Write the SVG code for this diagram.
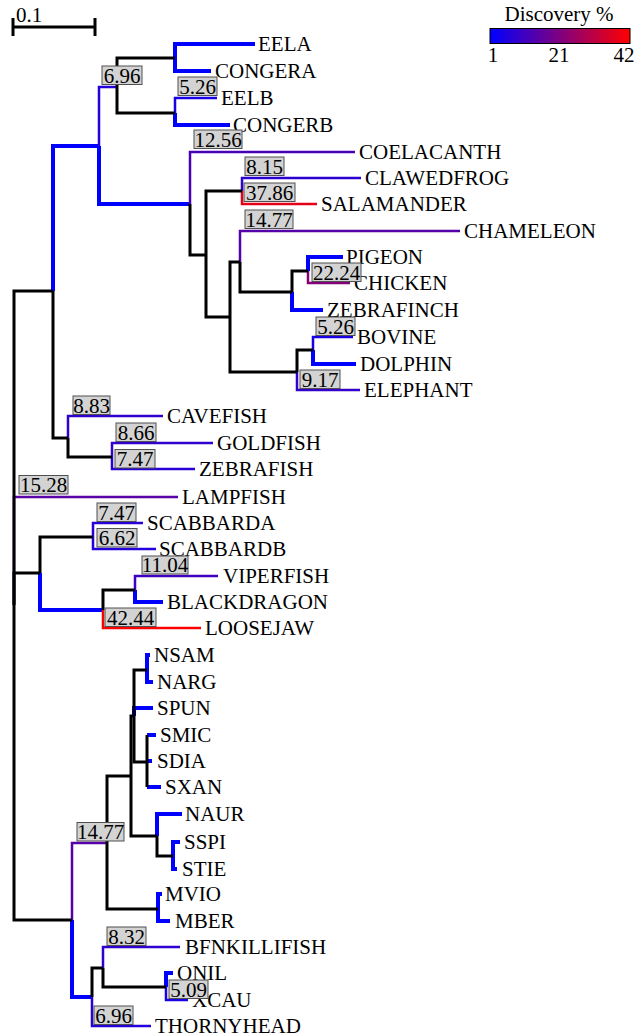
<svg xmlns="http://www.w3.org/2000/svg" width="642" height="1036" viewBox="0 0 642 1036">
<style>
text{font-family:"Liberation Serif","Times New Roman",serif;font-size:21px;fill:#000}
.e{fill:none;stroke-linejoin:miter;stroke-linecap:butt}
.k{stroke:#000;stroke-width:3}
.b{stroke:#0000ff;stroke-width:4}
.c{stroke-width:2.5}
.lb rect{fill:#d3d3d3;stroke:#505050;stroke-width:1}
.lb text{text-anchor:middle}
</style>
<defs>
<linearGradient id="grad" x1="0" y1="0" x2="1" y2="0">
<stop offset="0" stop-color="#0000ff"/>
<stop offset="1" stop-color="#ff0000"/>
</linearGradient>
</defs>
<rect width="642" height="1036" fill="#fff"/>
<g id="scale">
<path d="M13 27H95M13 18V36M95 18V36" stroke="#000" stroke-width="3" fill="none"/>
<text x="16" y="22">0.1</text>
</g>
<g id="legend">
<text x="559" y="21" text-anchor="middle">Discovery %</text>
<rect x="490" y="28.5" width="140" height="15" fill="url(#grad)" stroke="#000" stroke-width="1"/>
<text x="493" y="62" text-anchor="middle">1</text>
<text x="559" y="62" text-anchor="middle">21</text>
<text x="624" y="62" text-anchor="middle">42</text>
</g>
<g id="connectors">
<path class="e b" d="M53 291V146H99"/>
<path class="e c" stroke="rgb(37,0,218)" d="M99 146V87H117"/>
<path class="e b" d="M99 146V204H190"/>
<path class="e b" d="M175 58V44H255"/>
<path class="e b" d="M175 58V71H211"/>
<path class="e c" stroke="rgb(26,0,229)" d="M175 113V98H217"/>
<path class="e b" d="M175 113V125H230"/>
<path class="e c" stroke="rgb(72,0,183)" d="M190 204V152H355"/>
<path class="e c" stroke="rgb(44,0,211)" d="M242 191V178H361"/>
<path class="e c" stroke="rgb(229,0,26)" d="M242 191V204H317"/>
<path class="e c" stroke="rgb(86,0,169)" d="M240 262V231H460"/>
<path class="e b" d="M292 292V310H323"/>
<path class="e b" d="M308 271V257H343"/>
<path class="e c" stroke="rgb(132,0,123)" d="M308 271V283H350"/>
<path class="e c" stroke="rgb(51,0,204)" d="M297 372V390H360"/>
<path class="e c" stroke="rgb(26,0,229)" d="M313 350V337H353"/>
<path class="e b" d="M313 350V364H356"/>
<path class="e c" stroke="rgb(89,0,166)" d="M14 605V497H178"/>
<path class="e c" stroke="rgb(49,0,206)" d="M68 438V416H163"/>
<path class="e c" stroke="rgb(48,0,207)" d="M112 457V443H213"/>
<path class="e c" stroke="rgb(40,0,215)" d="M112 457V469H195"/>
<path class="e b" d="M40 573V610H103"/>
<path class="e c" stroke="rgb(40,0,215)" d="M93 537V523H143"/>
<path class="e c" stroke="rgb(35,0,220)" d="M93 537V549H156"/>
<path class="e c" stroke="#ff0000" d="M103 610V628H201"/>
<path class="e c" stroke="rgb(62,0,193)" d="M135 590V576H218"/>
<path class="e b" d="M135 590V602H163"/>
<path class="e c" stroke="rgb(86,0,169)" d="M72 920V843H107"/>
<path class="e b" d="M72 920V997H92"/>
<path class="e b" d="M147 670V655H150"/>
<path class="e b" d="M147 670V682H153"/>
<path class="e b" d="M134 716V708H153"/>
<path class="e b" d="M147 735H156M147 761H152M147 787H161"/>
<path class="e b" d="M157 836V814H182"/>
<path class="e b" d="M173 856V842H180"/>
<path class="e b" d="M173 856V869H177"/>
<path class="e b" d="M158 909V894H162"/>
<path class="e b" d="M158 909V921H170"/>
<path class="e c" stroke="rgb(37,0,218)" d="M92 997V1026H151"/>
<path class="e c" stroke="rgb(46,0,209)" d="M103 968V947H180"/>
<path class="e b" d="M166 987V973H173"/>
<path class="e c" stroke="rgb(25,0,230)" d="M166 987V1000H188"/>
<path class="e k" d="M14 605V291H53"/>
<path class="e k" d="M14 605V573H40"/>
<path class="e k" d="M14 605V920H72"/>
<path class="e k" d="M53 291V438H68"/>
<path class="e k" d="M117 87V58H175"/>
<path class="e k" d="M117 87V113H175"/>
<path class="e k" d="M190 204V255H206"/>
<path class="e k" d="M206 255V191H242"/>
<path class="e k" d="M206 255V317H230"/>
<path class="e k" d="M230 317V262H240"/>
<path class="e k" d="M230 317V372H297"/>
<path class="e k" d="M240 262V292H292"/>
<path class="e k" d="M292 292V271H308"/>
<path class="e k" d="M297 372V350H313"/>
<path class="e k" d="M68 438V457H112"/>
<path class="e k" d="M40 573V537H93"/>
<path class="e k" d="M103 610V590H135"/>
<path class="e k" d="M107 843V776H131"/>
<path class="e k" d="M107 843V909H158"/>
<path class="e k" d="M131 776V716H134"/>
<path class="e k" d="M131 776V836H157"/>
<path class="e k" d="M134 716V670H147"/>
<path class="e k" d="M134 716V762H147"/>
<path class="e k" d="M147 735V787"/>
<path class="e k" d="M157 836V856H173"/>
<path class="e k" d="M92 997V968H103"/>
<path class="e k" d="M103 968V987H166"/>
</g>
<g id="leaves">
<g id="n-EELA"><text x="258" y="50.5">EELA</text></g>
<g id="n-CONGERA"><text x="215" y="77.5">CONGERA</text></g>
<g id="n-EELB"><text x="221" y="104.5">EELB</text></g>
<g id="n-CONGERB"><text x="233" y="131.5">CONGERB</text></g>
<g id="n-COELACANTH"><text x="359" y="158.5">COELACANTH</text></g>
<g id="n-CLAWEDFROG"><text x="365" y="184.5">CLAWEDFROG</text></g>
<g id="n-SALAMANDER"><text x="321" y="210.5">SALAMANDER</text></g>
<g id="n-CHAMELEON"><text x="464" y="237.5">CHAMELEON</text></g>
<g id="n-PIGEON"><text x="346" y="263.5">PIGEON</text></g>
<g id="n-CHICKEN"><text x="354" y="289.5">CHICKEN</text></g>
<g id="n-ZEBRAFINCH"><text x="327" y="316.5">ZEBRAFINCH</text></g>
<g id="n-BOVINE"><text x="357" y="343.5">BOVINE</text></g>
<g id="n-DOLPHIN"><text x="360" y="370.5">DOLPHIN</text></g>
<g id="n-ELEPHANT"><text x="364" y="396.5">ELEPHANT</text></g>
<g id="n-CAVEFISH"><text x="167" y="422.5">CAVEFISH</text></g>
<g id="n-GOLDFISH"><text x="217" y="449.5">GOLDFISH</text></g>
<g id="n-ZEBRAFISH"><text x="199" y="475.5">ZEBRAFISH</text></g>
<g id="n-LAMPFISH"><text x="182" y="503.5">LAMPFISH</text></g>
<g id="n-SCABBARDA"><text x="147" y="529.5">SCABBARDA</text></g>
<g id="n-SCABBARDB"><text x="159" y="555.5">SCABBARDB</text></g>
<g id="n-VIPERFISH"><text x="223" y="582.5">VIPERFISH</text></g>
<g id="n-BLACKDRAGON"><text x="167" y="608.5">BLACKDRAGON</text></g>
<g id="n-LOOSEJAW"><text x="205" y="634.5">LOOSEJAW</text></g>
<g id="n-NSAM"><text x="154" y="661.5">NSAM</text></g>
<g id="n-NARG"><text x="157" y="688.5">NARG</text></g>
<g id="n-SPUN"><text x="157" y="714.5">SPUN</text></g>
<g id="n-SMIC"><text x="160" y="741.5">SMIC</text></g>
<g id="n-SDIA"><text x="157" y="767.5">SDIA</text></g>
<g id="n-SXAN"><text x="165" y="793.5">SXAN</text></g>
<g id="n-NAUR"><text x="185" y="820.5">NAUR</text></g>
<g id="n-SSPI"><text x="184" y="848.5">SSPI</text></g>
<g id="n-STIE"><text x="182" y="875.5">STIE</text></g>
<g id="n-MVIO"><text x="165" y="900.5">MVIO</text></g>
<g id="n-MBER"><text x="175" y="927.5">MBER</text></g>
<g id="n-BFNKILLIFISH"><text x="185" y="953.5">BFNKILLIFISH</text></g>
<g id="n-ONIL"><text x="177" y="979.5">ONIL</text></g>
<g id="n-XCAU"><text x="192" y="1006.5">XCAU</text></g>
<g id="n-THORNYHEAD"><text x="155" y="1032.5">THORNYHEAD</text></g>
</g>
<g id="labels">
<g id="l1" class="lb"><rect x="102" y="66" width="40" height="18.5"/><text x="122" y="82.5">6.96</text></g>
<g id="l2" class="lb"><rect x="178" y="77" width="39" height="18.5"/><text x="197.5" y="93.5">5.26</text></g>
<g id="l3" class="lb"><rect x="194" y="130" width="48" height="18.5"/><text x="218" y="146.5">12.56</text></g>
<g id="l4" class="lb"><rect x="245" y="157" width="39" height="18.5"/><text x="264.5" y="173.5">8.15</text></g>
<g id="l5" class="lb"><rect x="244" y="183" width="51" height="18.5"/><text x="269.5" y="199.5">37.86</text></g>
<g id="l6" class="lb"><rect x="245" y="210" width="48" height="18.5"/><text x="269" y="226.5">14.77</text></g>
<g id="l7" class="lb"><rect x="312" y="263" width="49" height="18.5"/><text x="336.5" y="279.5">22.24</text></g>
<g id="l8" class="lb"><rect x="316" y="317" width="39" height="18.5"/><text x="335.5" y="333.5">5.26</text></g>
<g id="l9" class="lb"><rect x="300" y="370" width="40" height="18.5"/><text x="320" y="386.5">9.17</text></g>
<g id="l10" class="lb"><rect x="73" y="396" width="37" height="18.5"/><text x="91.5" y="412.5">8.83</text></g>
<g id="l11" class="lb"><rect x="116" y="423" width="40" height="18.5"/><text x="136" y="439.5">8.66</text></g>
<g id="l12" class="lb"><rect x="115" y="449.5" width="40" height="18.5"/><text x="135" y="466">7.47</text></g>
<g id="l13" class="lb"><rect x="19" y="475.5" width="49" height="18.5"/><text x="43.5" y="492">15.28</text></g>
<g id="l14" class="lb"><rect x="97" y="503" width="39" height="18.5"/><text x="116.5" y="519.5">7.47</text></g>
<g id="l15" class="lb"><rect x="97" y="528.5" width="40" height="18.5"/><text x="117" y="545">6.62</text></g>
<g id="l16" class="lb"><rect x="142" y="556" width="46" height="18"/><text x="165" y="572">11.04</text></g>
<g id="l17" class="lb"><rect x="105" y="608" width="51" height="18.5"/><text x="130.5" y="624.5">42.44</text></g>
<g id="l18" class="lb"><rect x="77" y="822.5" width="47" height="18.5"/><text x="100.5" y="839">14.77</text></g>
<g id="l19" class="lb"><rect x="107" y="927" width="39" height="18.5"/><text x="126.5" y="943.5">8.32</text></g>
<g id="l20" class="lb"><rect x="169" y="980" width="39" height="18.5"/><text x="188.5" y="996.5">5.09</text></g>
<g id="l21" class="lb"><rect x="94" y="1006" width="39" height="18.5"/><text x="113.5" y="1022.5">6.96</text></g>
</g>
</svg>
